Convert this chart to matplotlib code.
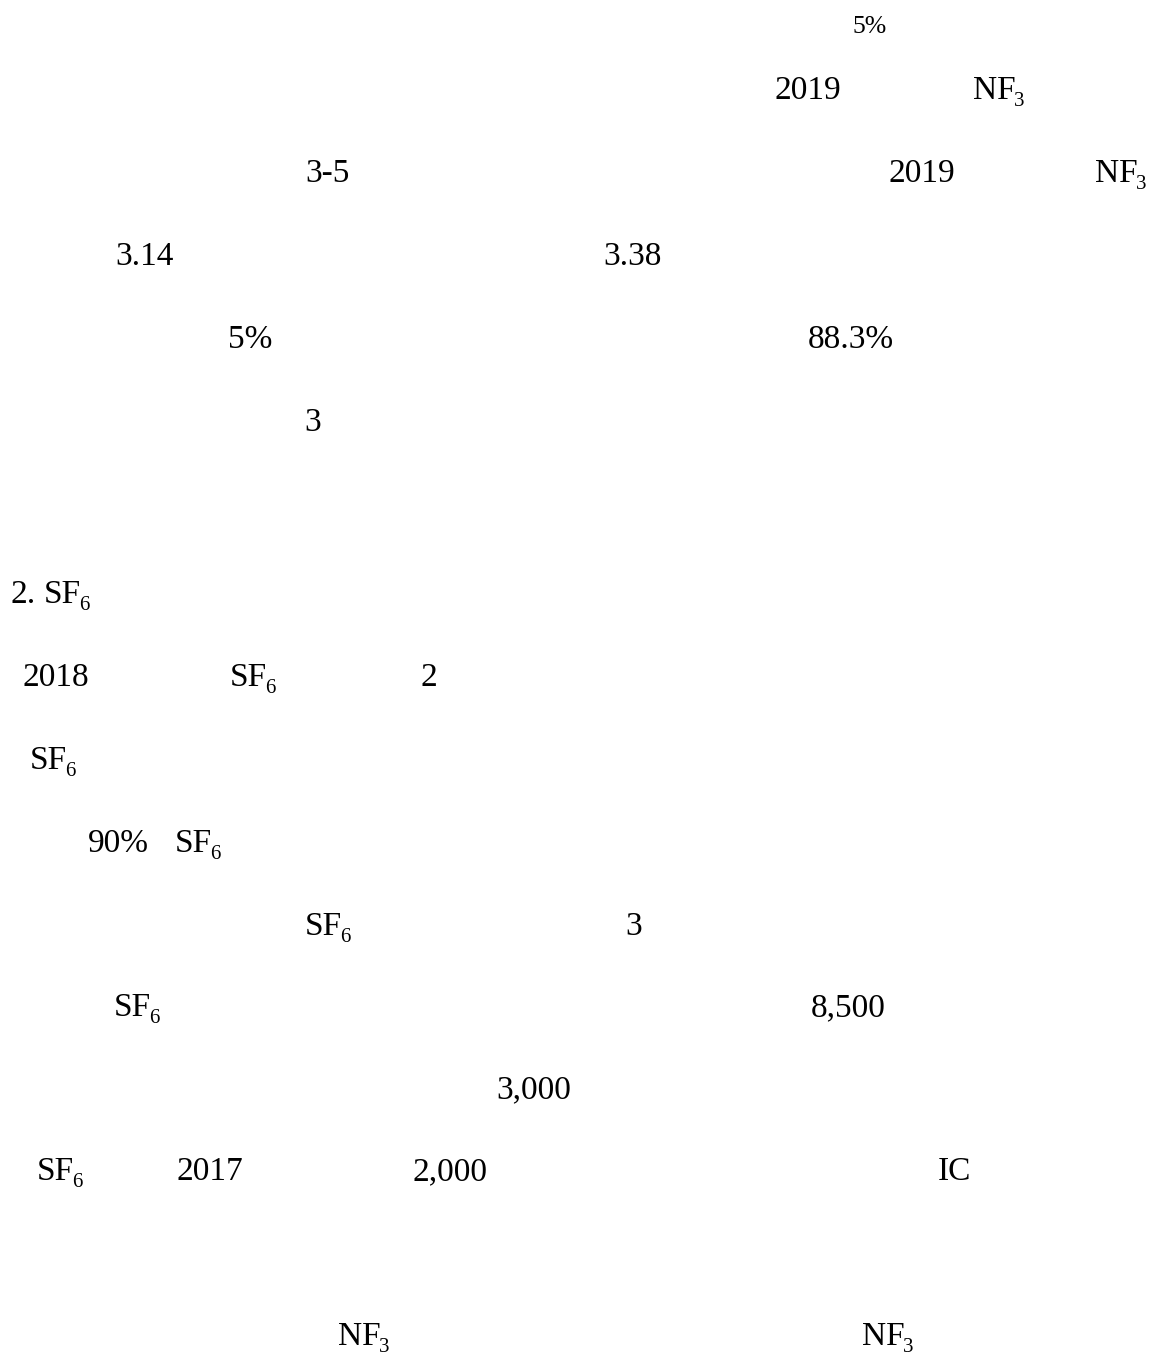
import matplotlib
matplotlib.use("Agg")
import matplotlib.pyplot as plt

plt.rcParams["font.family"] = ["Liberation Serif", "DejaVu Serif"]

W, H = 1161, 1356

# Latin fragments left on the page (the CJK text is not rendered in the source).
# A tuple is (main text, subscript).
NF3 = ("NF", "3")
SF6 = ("SF", "6")

line_texts = [
    ["5%"],
    ["2019", NF3],
    ["3-5", "2019", NF3],
    ["3.14", "3.38"],
    ["5%", "88.3%"],
    ["3"],
    ["2.", SF6],
    ["2018", SF6, "2"],
    [SF6],
    ["90%", SF6],
    [SF6, "3"],
    [SF6, "8,500"],
    ["3,000"],
    [SF6, "2017", "2,000", "IC"],
    [NF3, NF3],
]

# left edge of each fragment, pixels
line_x = [
    [852],
    [775, 973],
    [305, 889, 1095],
    [115, 603],
    [228, 808],
    [304],
    [10, 44],
    [22, 230, 420],
    [30],
    [88, 175],
    [305, 625],
    [114, 811],
    [496],
    [37, 176, 413, 938],
    [338, 862],
]

# baseline of each line, pixels from top
line_y = [33, 99, 182, 265, 348, 431, 603, 686, 769, 852, 935, 1016, 1098, 1180, 1345]

fig = plt.figure(figsize=(W / 100, H / 100), dpi=100)
fig.patch.set_facecolor("white")
renderer = fig.canvas.get_renderer()


def put(x, y, s, size):
    return fig.text(x / W, 1 - y / H, s, fontsize=size, color="black",
                    ha="left", va="baseline")


for i, (texts, xs, y) in enumerate(zip(line_texts, line_x, line_y)):
    size = 18.5 if i == 0 else 24
    for t, x in zip(texts, xs):
        if isinstance(t, tuple):
            main, sub = t
            art = put(x, y, main, size)
            right = art.get_window_extent(renderer).x1
            put(right - 2, y + 7, sub, 15)
        else:
            put(x, y, t, size)

fig.savefig("out.png", dpi=100, facecolor="white")
plt.close(fig)
